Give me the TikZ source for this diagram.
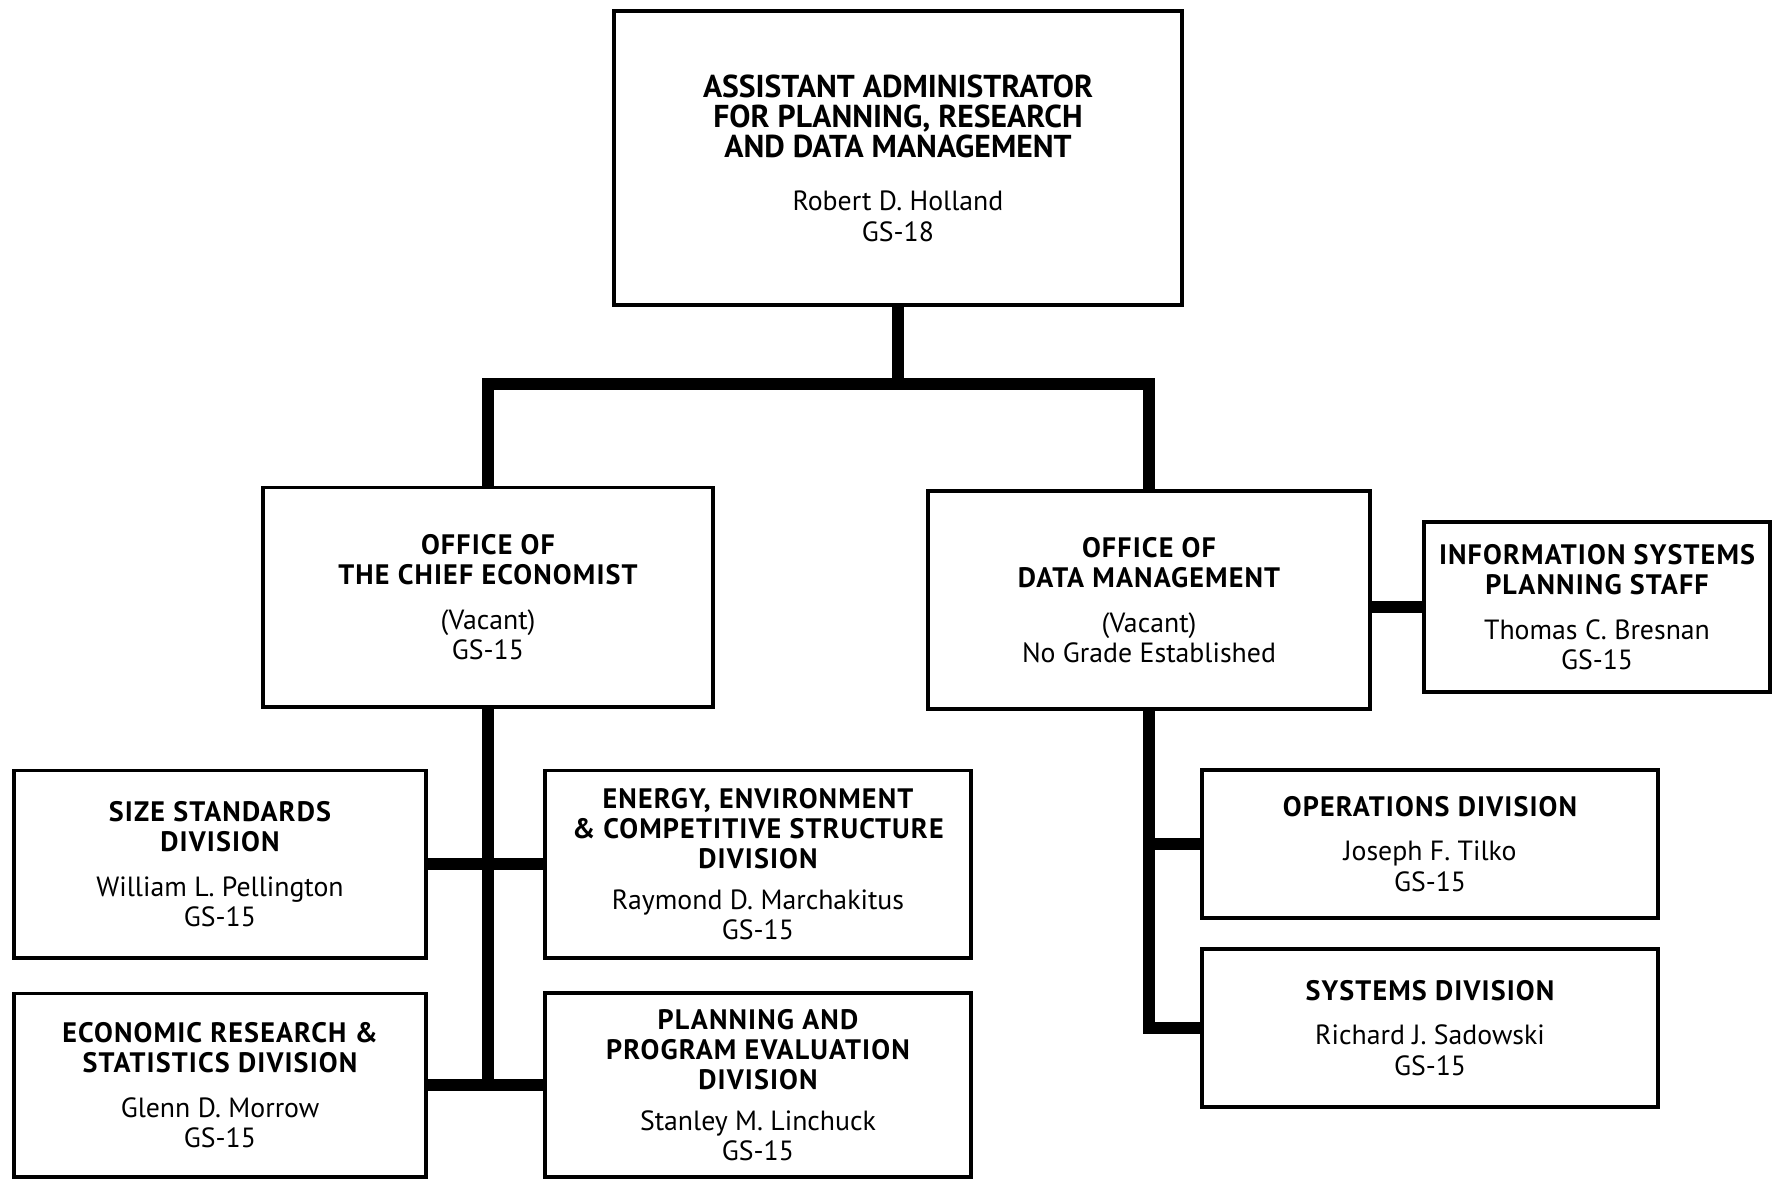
\documentclass[tikz,border=0pt]{standalone}
\usepackage{fontspec}
\setmainfont{PT Sans}
\newfontfamily\TitleFont[LetterSpace=4]{PT Sans}
\usetikzlibrary{positioning,calc}

\newcommand{\hd}{\TitleFont\bfseries\fontsize{8}{9.2}\selectfont}

\begin{document}
\begin{tikzpicture}[
        %Environment config
        x=0.01cm, y=-0.01cm,
        font=\fontsize{7.9}{8.6}\selectfont,
        %Environment styles
        OrgBox/.style={
            draw,
            line width=1.1pt,
            rectangle,
            align=center,
            inner sep=2pt
        },
        Link/.style={
            line width=3.6pt
        }
    ]
    \useasboundingbox (0,0) rectangle (1773,1179);

    \path
        (898,158) node[OrgBox,minimum width=5.67cm,minimum height=2.94cm](AA){%
            \bfseries\fontsize{9}{10.2}\selectfont ASSISTANT ADMINISTRATOR\\
            \bfseries\fontsize{9}{10.2}\selectfont FOR PLANNING, RESEARCH\\
            \bfseries\fontsize{9}{10.2}\selectfont AND DATA MANAGEMENT\\[6.5pt]
            Robert D. Holland\\ GS-18}
        (488,597) node[OrgBox,minimum width=4.49cm,minimum height=2.19cm](CE){%
            \hd OFFICE OF\\ \hd THE CHIEF ECONOMIST\\[4pt]
            (Vacant)\\ GS-15}
        (1149,600) node[OrgBox,minimum width=4.42cm,minimum height=2.18cm](DM){%
            \hd OFFICE OF\\ \hd DATA MANAGEMENT\\[4pt]
            (Vacant)\\ No Grade Established}
        (1597,607) node[OrgBox,minimum width=3.45cm,minimum height=1.70cm](IS){%
            \hd INFORMATION SYSTEMS\\ \hd PLANNING STAFF\\[4pt]
            Thomas C. Bresnan\\ GS-15}
        (220,864) node[OrgBox,minimum width=4.11cm,minimum height=1.87cm](SS){%
            \hd SIZE STANDARDS\\ \hd DIVISION\\[4pt]
            William L. Pellington\\ GS-15}
        (758,864) node[OrgBox,minimum width=4.25cm,minimum height=1.87cm](EE){%
            \hd ENERGY, ENVIRONMENT\\ \hd \& COMPETITIVE STRUCTURE\\
            \hd DIVISION\\[3pt]
            Raymond D. Marchakitus\\ GS-15}
        (220,1085) node[OrgBox,minimum width=4.11cm,minimum height=1.83cm](ER){%
            \hd ECONOMIC RESEARCH \&\\ \hd STATISTICS DIVISION\\[4pt]
            Glenn D. Morrow\\ GS-15}
        (758,1085) node[OrgBox,minimum width=4.25cm,minimum height=1.84cm](PP){%
            \hd PLANNING AND\\ \hd PROGRAM EVALUATION\\
            \hd DIVISION\\[3pt]
            Stanley M. Linchuck\\ GS-15}
        (1430,844) node[OrgBox,minimum width=4.55cm,minimum height=1.48cm](OP){%
            \hd OPERATIONS DIVISION\\[4pt]
            Joseph F. Tilko\\ GS-15}
        (1430,1028) node[OrgBox,minimum width=4.55cm,minimum height=1.58cm](SY){%
            \hd SYSTEMS DIVISION\\[4pt]
            Richard J. Sadowski\\ GS-15};

    \coordinate (Bar) at (898,384);

    \draw[Link]
        (AA.south) -- (AA.south |- Bar)
        (CE.north) |- (Bar -| DM.north) -- (DM.north)

        (CE.south) -- (CE.south |- ER.east)
        (SS.east) -- (EE.west)
        (ER.east) -- (PP.west)

        (IS.west -| DM.east) -- (IS.west)
        (DM.south) |- (SY.west)
        (DM.south |- OP.west) -- (OP.west);

\end{tikzpicture}
\end{document}
